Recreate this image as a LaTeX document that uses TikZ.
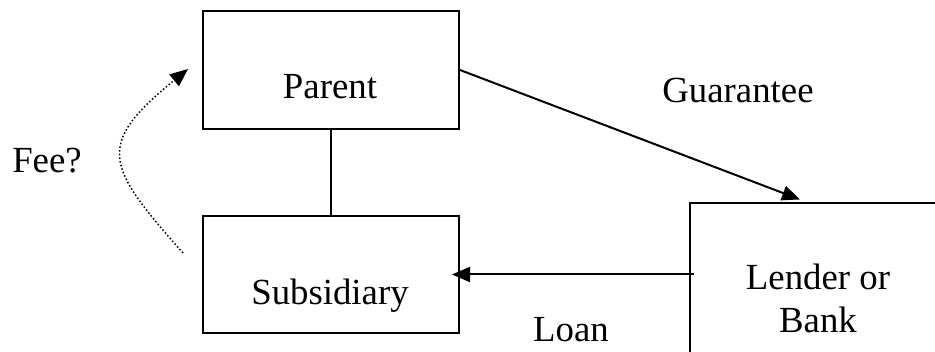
\documentclass[tikz,border=0pt]{standalone}
\usepackage{fontspec}
\setmainfont{Liberation Serif}
\usetikzlibrary{arrows.meta,calc}
\tikzset{
  box/.style={draw, line width=2pt, rectangle, inner sep=0pt},
  lbl/.style={anchor=base, inner sep=0pt, font=\fontsize{36.8pt}{43pt}\selectfont},
  link/.style={line width=2pt},
  arr/.style={line width=2pt, -{Triangle[length=18pt,width=15pt]}},
  fee/.style={line width=1.5pt, dash pattern=on 1.5pt off 2.2pt, -{Triangle[length=18pt,width=15pt]}}
}
\begin{document}
\begin{tikzpicture}[x=1pt,y=-1pt]
\useasboundingbox (0,0) rectangle (935,352);
\clip (0,0) rectangle (935,352);
\node[box, minimum width=256pt, minimum height=118pt] (parent) at (331,70) {};
\node[box, minimum width=256pt, minimum height=117pt] (sub) at (331,274.5) {};
\node[box, minimum width=280pt, minimum height=194pt] (lender) at (830,300) {};
\node[lbl] (ptext) at (330,99) {Parent};
\node[lbl] (stext) at (330,305) {Subsidiary};
\node[lbl] (ltext1) at (818,290) {Lender or};
\node[lbl] (ltext2) at (818,333) {Bank};
\node[lbl] (gtext) at (738,103) {Guarantee};
\node[lbl] (loantext) at (571,342) {Loan};
\node[lbl] (feetext) at (47,173) {Fee?};
\coordinate (gtip) at (800,199.5);
\coordinate (feestart) at (183,253);
\coordinate (feeend) at (188,69);
\draw[link] (parent) -- (sub);
\draw[arr] (parent.east) -- (gtip);
\draw[arr, shorten >=-8pt] ($(sub.east -| lender.west)+(5,0)$) -- (sub.east);
\draw[fee] (feestart) .. controls (105,165) and (95,145) .. (feeend);
\end{tikzpicture}
\end{document}
